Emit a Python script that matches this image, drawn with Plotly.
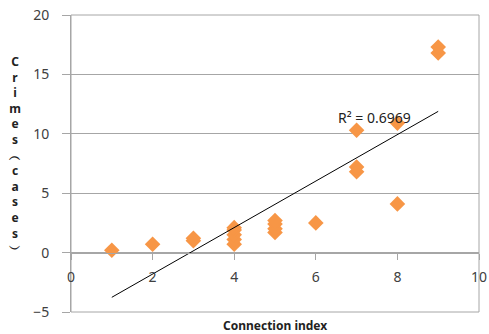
import numpy as np
import plotly.graph_objects as go

# Data
connection_index = [1, 2, 3, 3, 4, 4, 4, 4, 4, 5, 5, 5, 5, 6, 7, 7, 7, 8, 8, 9, 9]
crime_cases = [0.2, 0.7, 1.0, 1.2, 0.7, 1.1, 1.5, 1.9, 2.1, 1.7, 2.0, 2.4, 2.7, 2.5,
               10.3, 6.8, 7.2, 10.9, 4.1, 16.8, 17.3]
r2_label = "R² = 0.6969"
x_ticks = [0, 2, 4, 6, 8, 10]
y_ticks = [-5, 0, 5, 10, 15, 20]

x = np.array(connection_index, dtype=float)
y = np.array(crime_cases, dtype=float)
slope, intercept = np.polyfit(x, y, 1)
xt = np.array([x.min(), x.max()])
yt = slope * xt + intercept

GRID = "#A6A6A6"
TXT = "#404040"
FONT = "Noto Sans"

fig = go.Figure()
fig.add_trace(go.Scatter(x=connection_index, y=crime_cases, mode="markers",
                         marker=dict(symbol="diamond", size=12, color="#F79646",
                                     line=dict(width=0)),
                         showlegend=False, hoverinfo="skip"))
fig.add_trace(go.Scatter(x=xt, y=yt, mode="lines",
                         line=dict(color="black", width=1),
                         showlegend=False, hoverinfo="skip"))

fig.update_layout(
    width=489, height=334,
    margin=dict(l=71, r=10, t=15, b=22),
    paper_bgcolor="white", plot_bgcolor="white",
    font=dict(family=FONT, size=14, color=TXT),
    xaxis=dict(range=[0, 10], tickvals=x_ticks, anchor="free", position=0.2,
               automargin=False,
               showgrid=False, zeroline=False, showline=True, linecolor=GRID,
               ticks="outside", ticklen=6, tickcolor=GRID,
               ticklabelstandoff=6,
               tickfont=dict(family=FONT, size=14, color=TXT)),
    yaxis=dict(range=[-5, 20], tickvals=y_ticks, automargin=False,
               showgrid=True, gridcolor=GRID, gridwidth=1, zeroline=False,
               showline=True, linecolor=GRID,
               ticks="outside", ticklen=8, tickcolor=GRID,
               ticklabelstandoff=10,
               tickfont=dict(family=FONT, size=14, color=TXT)),
    shapes=[dict(type="rect", xref="paper", yref="paper", x0=0, x1=1, y0=0, y1=1,
                 line=dict(color=GRID, width=1), layer="below")],
    annotations=[
        dict(text=r2_label, x=7.45, y=11.4, xref="x", yref="y", showarrow=False,
             font=dict(family=FONT, size=14, color="#222222")),
        dict(text="<b>Connection index</b>", x=0.5, y=-0.047, xref="paper", yref="paper",
             showarrow=False, yanchor="middle",
             font=dict(family=FONT, size=12, color="#222222")),
        dict(text="<b>" + "<br>".join(list("Crimes︵cases︶")) + "</b>",
             x=-0.137, y=0.529, xref="paper", yref="paper", showarrow=False,
             xanchor="center", yanchor="middle",
             font=dict(family=FONT, size=12, color="#222222")),
    ],
)

fig.write_html("out.html", config={"displayModeBar": False},
               post_script="document.body.style.margin='0';document.body.style.overflow='hidden';")
